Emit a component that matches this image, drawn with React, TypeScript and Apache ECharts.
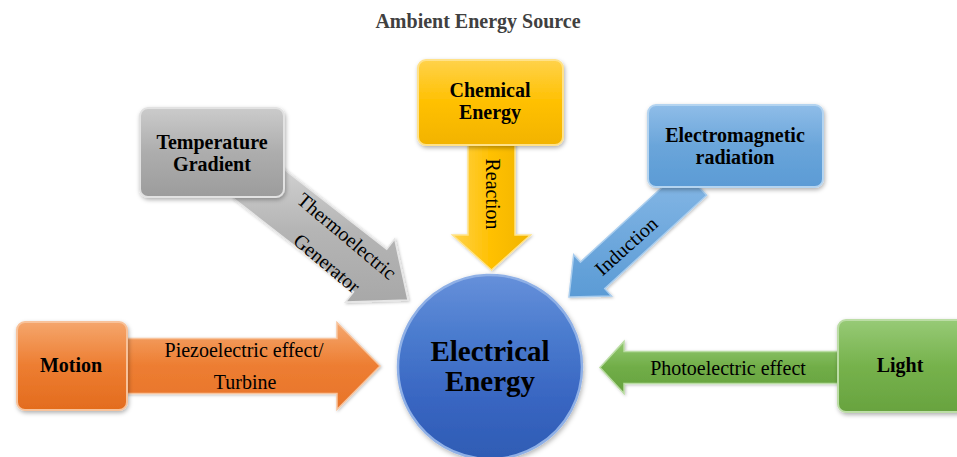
import React, { useEffect, useRef } from "react";
import * as echarts from "echarts";

const TITLE = "Ambient Energy Source";
const CENTER_LABEL = ["Electrical", "Energy"];
const SOURCE_LABELS = [
  ["Temperature", "Gradient"],
  ["Chemical", "Energy"],
  ["Electromagnetic", "radiation"],
  ["Motion"],
  ["Light"],
];
const METHOD_LABELS = [
  ["Thermoelectric", "Generator"],
  ["Reaction"],
  ["Induction"],
  ["Piezoelectric effect/", "Turbine"],
  ["Photoelectric effect"],
];

const FONT = "'Liberation Serif', 'Times New Roman', serif";

function lin(stops: string[], horizontal = false) {
  return {
    type: "linear",
    x: 0,
    y: 0,
    x2: horizontal ? 1 : 0,
    y2: horizontal ? 0 : 1,
    colorStops: stops.map((c, i) => ({ offset: i / (stops.length - 1), color: c })),
  };
}

function arrowPoints(sx: number, sy: number, tx: number, ty: number, a: number, b: number, L: number) {
  const dx = tx - sx;
  const dy = ty - sy;
  const len = Math.sqrt(dx * dx + dy * dy);
  const ux = dx / len;
  const uy = dy / len;
  const nx = -uy;
  const ny = ux;
  const hx = tx - ux * L;
  const hy = ty - uy * L;
  return [
    [sx + nx * a, sy + ny * a],
    [hx + nx * a, hy + ny * a],
    [hx + nx * b, hy + ny * b],
    [tx, ty],
    [hx - nx * b, hy - ny * b],
    [hx - nx * a, hy - ny * a],
    [sx - nx * a, sy - ny * a],
  ];
}

function arrow(pts: number[][], fill: any, stroke: string) {
  return {
    type: "polygon",
    z: 1,
    shape: { points: pts },
    style: {
      fill,
      stroke,
      lineWidth: 1.5,
      shadowBlur: 3,
      shadowColor: "rgba(0,0,0,0.25)",
      shadowOffsetX: 1,
      shadowOffsetY: 1,
    },
  };
}

function box(x: number, y: number, w: number, h: number, fill: any, stroke: string) {
  return {
    type: "rect",
    z: 2,
    shape: { x, y, width: w, height: h, r: 8 },
    style: {
      fill,
      stroke,
      lineWidth: 2,
      shadowBlur: 4,
      shadowColor: "rgba(0,0,0,0.3)",
      shadowOffsetX: 1,
      shadowOffsetY: 2,
    },
  };
}

function txt(text: string, x: number, y: number, size: number, bold: boolean, rotation = 0, color = "#000") {
  return {
    type: "text",
    z: 5,
    x,
    y,
    rotation,
    style: {
      text,
      fill: color,
      font: `${bold ? "bold " : ""}${size}px ${FONT}`,
      align: "center",
      verticalAlign: "middle",
    },
  };
}

export default function App() {
  const ref = useRef<HTMLDivElement>(null);
  useEffect(() => {
    document.body.style.margin = "0";
    if (!ref.current) return;
    const chart = echarts.init(ref.current, null, { renderer: "svg" });
    const deg = Math.PI / 180;

    const elements: any[] = [
      // arrows
      arrow(arrowPoints(250, 177, 408, 300, 27, 40, 48), lin(["#D6D6D6", "#B5B5B5", "#A8A8A8"]), "#E6E6E6"),
      arrow(arrowPoints(491.5, 140, 491.5, 270, 23.5, 39, 35), lin(["#FFD24A", "#FFC000", "#F0B400"], true), "#FFE38A"),
      arrow(arrowPoints(694.5, 182, 569, 297, 18, 28, 32), lin(["#86B8E6", "#5B9BD5"]), "#A9CDEE"),
      arrow(arrowPoints(100, 366, 380, 366, 27.5, 43.5, 43), lin(["#F5A86F", "#ED7D31", "#E8742A"]), "#F8C39C"),
      arrow(arrowPoints(860, 367.5, 600, 367.5, 16, 26, 24), lin(["#92C76F", "#70AD47", "#67A23F"]), "#B9DCA2"),
      // boxes
      box(140, 108, 144, 89, lin(["#CBCBCB", "#ADADAD", "#9C9C9C"]), "#E2E2E2"),
      box(418, 60, 145, 85, lin(["#FFD24A", "#FFC000", "#F2B300"]), "#FFE28A"),
      box(648, 105, 175, 82, lin(["#8FBDE8", "#6AA5DA", "#5B9BD5"]), "#B4D4F0"),
      box(17, 322, 110, 88, lin(["#F5A66C", "#ED7D31", "#E36C1E"]), "#F8C29A"),
      box(838, 320, 130, 92, lin(["#97CA76", "#76B24C", "#68A33F"]), "#BCDDA6"),
      // circle
      {
        type: "circle",
        z: 2,
        shape: { cx: 490, cy: 367, r: 92 },
        style: {
          fill: lin(["#6690DA", "#4A7BCE", "#3966C2", "#2E5CB4"]),
          stroke: "#8FB0E6",
          lineWidth: 2.5,
          shadowBlur: 5,
          shadowColor: "rgba(0,0,0,0.3)",
          shadowOffsetX: 1,
          shadowOffsetY: 2,
        },
      },
      // title
      txt(TITLE, 478, 21, 20, true, 0, "#404040"),
      // center label
      txt(CENTER_LABEL[0], 490, 351, 29, true),
      txt(CENTER_LABEL[1], 490, 381, 29, true),
      // source labels
      txt(SOURCE_LABELS[0][0], 212, 142, 20, true),
      txt(SOURCE_LABELS[0][1], 212, 164, 20, true),
      txt(SOURCE_LABELS[1][0], 490, 90, 20, true),
      txt(SOURCE_LABELS[1][1], 490, 112, 20, true),
      txt(SOURCE_LABELS[2][0], 735, 135, 20, true),
      txt(SOURCE_LABELS[2][1], 735, 157, 20, true),
      txt(SOURCE_LABELS[3][0], 71, 365, 20, true),
      txt(SOURCE_LABELS[4][0], 900, 365, 20, true),
      // method labels
      txt(METHOD_LABELS[0][0], 347, 236, 20, false, -40 * deg),
      txt(METHOD_LABELS[0][1], 327, 263, 20, false, -40 * deg),
      txt(METHOD_LABELS[1][0], 493, 194, 20, false, -90 * deg),
      txt(METHOD_LABELS[2][0], 626, 246, 20, false, 42 * deg),
      txt(METHOD_LABELS[3][0], 244, 350, 20, false),
      txt(METHOD_LABELS[3][1], 245, 382, 20, false),
      txt(METHOD_LABELS[4][0], 728, 368, 20, false),
    ];

    chart.setOption({
      animation: false,
      backgroundColor: "#ffffff",
      graphic: { elements },
    });
    return () => chart.dispose();
  }, []);
  return <div ref={ref} style={{ width: 957, height: 457 }} />;
}
